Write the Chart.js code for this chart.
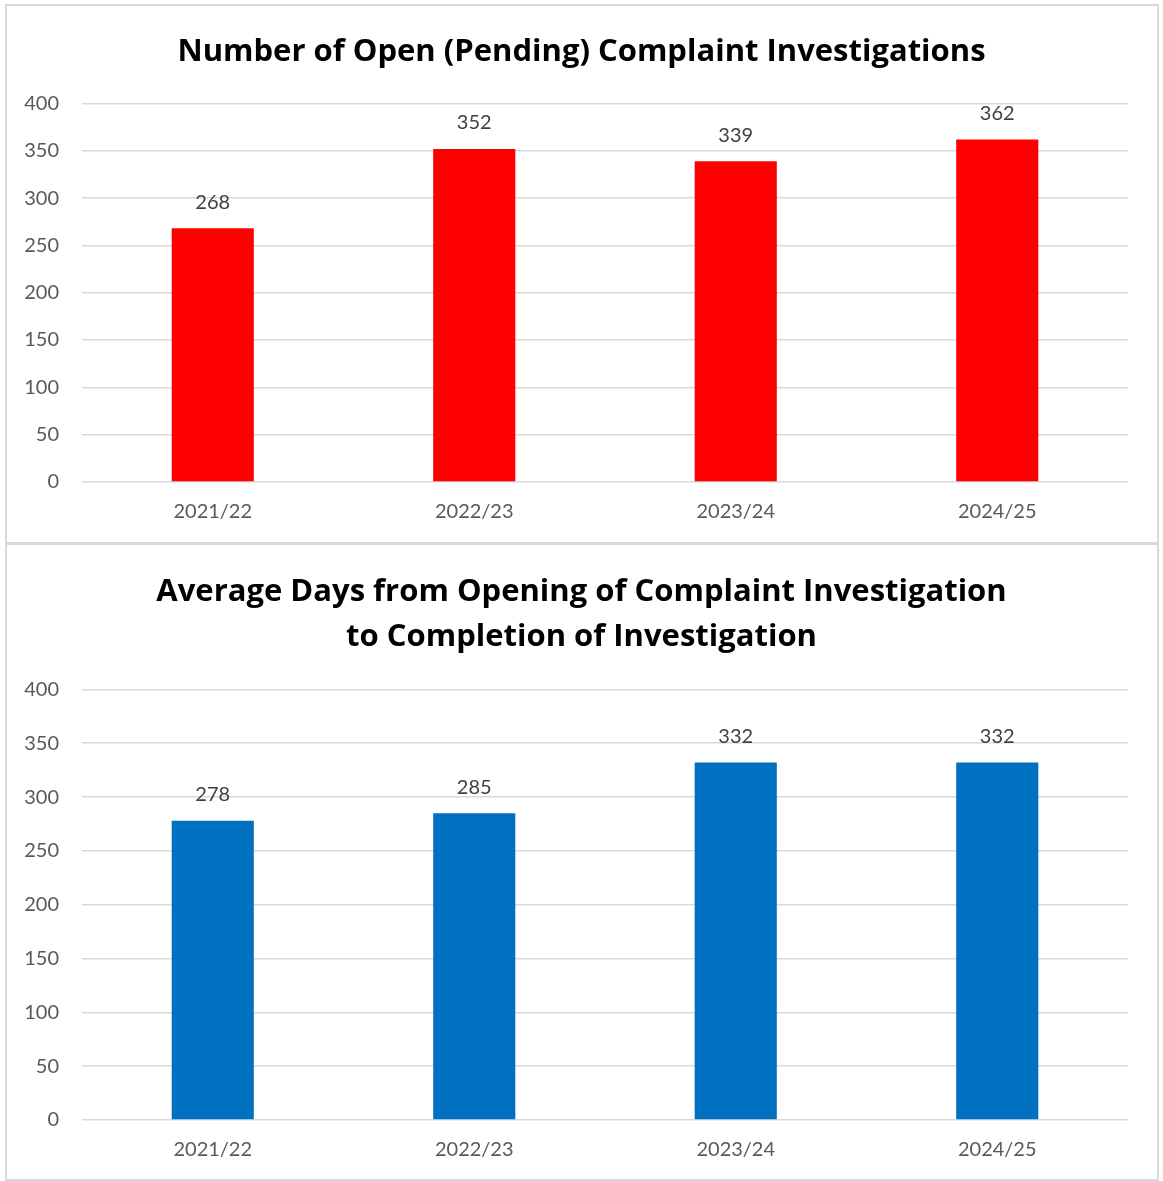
<!DOCTYPE html>
<html>
<head>
<meta charset="utf-8">
<script src="https://cdn.jsdelivr.net/npm/chart.js@4"></script>
<style>
  body { margin: 0; background: #fff; width: 1163px; height: 1181px; position: relative; overflow: hidden; }
  .panel { position: absolute; border: 2px solid #d9d9d9; box-sizing: border-box; background: #fff; }
  canvas { position: absolute; }
</style>
</head>
<body>
<div class="panel" style="left:5px; top:4px; width:1154px; height:540px;"></div>
<div class="panel" style="left:5px; top:543px; width:1154px; height:638px;"></div>
<canvas id="pendingChart" style="left:7px; top:6px;" width="1149" height="535"></canvas>
<canvas id="daysChart" style="left:7px; top:546px;" width="1149" height="632"></canvas>
<script>
const years = ["2021/22", "2022/23", "2023/24", "2024/25"];
const openInvestigations = [268, 352, 339, 362];
const averageDays = [278, 285, 332, 332];
const yTicks = [0, 50, 100, 150, 200, 250, 300, 350, 400];

const FONT = "Lato, 'Open Sans', sans-serif";
const TITLE_FONT = "'Open Sans', Lato, sans-serif";

// draw the value above each bar
const barLabels = {
    id: "barLabels",
    afterDatasetsDraw(chart) {
        const ctx = chart.ctx;
        const meta = chart.getDatasetMeta(0);
        const values = chart.data.datasets[0].data;
        ctx.save();
        ctx.font = "20px " + FONT;
        ctx.fillStyle = "#404040";
        ctx.textAlign = "center";
        ctx.textBaseline = "middle";
        meta.data.forEach((bar, i) => {
            ctx.fillText(values[i], bar.x, bar.y - 26);
        });
        ctx.restore();
    }
};

// title sits in the middle of the whole panel, not of the padded box
const centerTitle = {
    id: "centerTitle",
    afterLayout(chart) {
        if (chart.titleBlock) {
            chart.titleBlock.left = 28;
            chart.titleBlock.right = chart.width - 28;
        }
    }
};

function makeChart(id, title, values, color, titleGap, axisHeight) {
    const ctx = document.getElementById(id).getContext("2d");
    return new Chart(ctx, {
        type: "bar",
        data: {
            labels: years,
            datasets: [{
                data: values,
                backgroundColor: color,
                barPercentage: 0.314,
                categoryPercentage: 1
            }]
        },
        options: {
            responsive: false,
            animation: false,
            devicePixelRatio: 1,
            layout: { padding: { left: 0, right: 28, top: 0, bottom: 0 } },
            plugins: {
                legend: { display: false },
                tooltip: { enabled: false },
                title: {
                    display: true,
                    text: title,
                    color: "#000",
                    font: { family: TITLE_FONT, size: 31, weight: "bold", lineHeight: 1.45 },
                    padding: { top: 23.5, bottom: titleGap }
                }
            },
            scales: {
                x: {
                    afterFit(scale) {
                        scale.height = axisHeight;
                    },
                    grid: { display: false, drawTicks: false },
                    border: { display: false },
                    ticks: { color: "#595959", font: { family: FONT, size: 20 }, padding: 18 }
                },
                y: {
                    min: 0,
                    max: 400,
                    afterBuildTicks(scale) {
                        scale.ticks = yTicks.map(v => ({ value: v }));
                    },
                    afterFit(scale) {
                        scale.width = 75;
                    },
                    grid: { color: "#d9d9d9", lineWidth: 1.5, drawTicks: false },
                    border: { display: false },
                    ticks: { color: "#595959", font: { family: FONT, size: 20 }, padding: 23 }
                }
            }
        },
        plugins: [barLabels, centerTitle]
    });
}

makeChart("pendingChart", "Number of Open (Pending) Complaint Investigations", openInvestigations, "#ff0000", 29, 59);
makeChart("daysChart", ["Average Days from Opening of Complaint Investigation", "to Completion of Investigation"], averageDays, "#0070c0", 30, 58);
</script>
</body>
</html>
